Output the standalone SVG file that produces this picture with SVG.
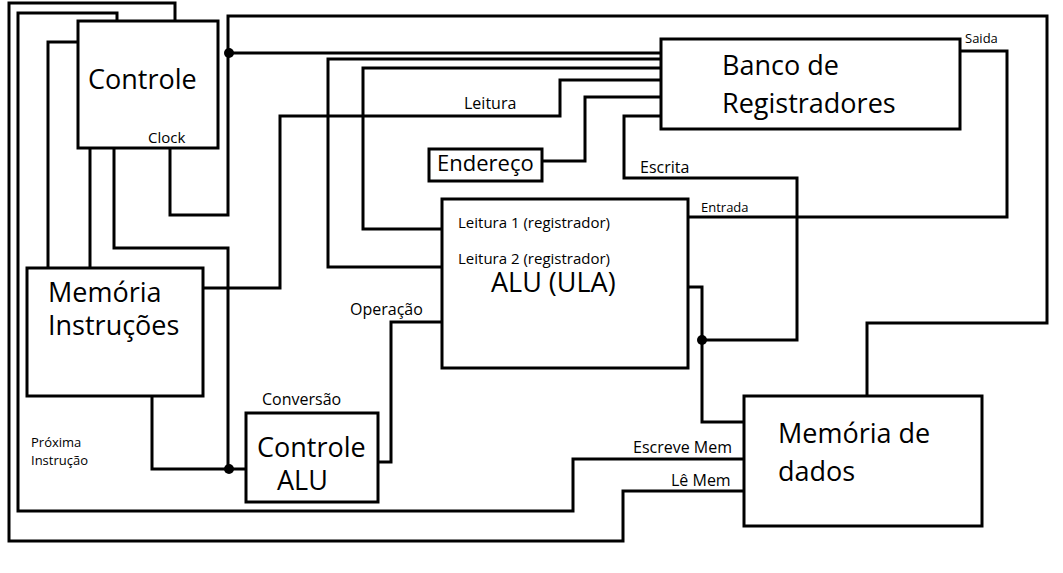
<svg xmlns="http://www.w3.org/2000/svg" width="1063" height="573" viewBox="0 0 1063 573">
<style>
.w{fill:none;stroke:#000;stroke-width:3;stroke-linejoin:miter}
.b{fill:#fff;stroke:#000;stroke-width:3}
.d{fill:#000}
text{font-family:"Open Sans","Noto Sans",sans-serif;fill:#000}
.L{font-size:27px}
.M{font-size:16px}
.S{font-size:13px}
</style>
<rect width="1063" height="573" fill="#fff"/>
<g id="connectors">
<polyline class="w" points="175,21 175,3 9,3 9,541 623,541 623,491 744,491"/>
<polyline class="w" points="117,21 117,13 18,13 18,511 573,511 573,459 744,459"/>
<polyline class="w" points="78,42 48,42 48,268"/>
<polyline class="w" points="90,148 90,268"/>
<polyline class="w" points="114,148 114,248 228,248 228,469"/>
<polyline class="w" points="152,396 152,469 246,469"/>
<polyline class="w" points="170,148 170,215 228,215 228,16 1047,16 1047,323 867,323 867,396"/>
<polyline class="w" points="228,53 661,53"/>
<polyline class="w" points="661,59 328,59 328,267 442,267"/>
<polyline class="w" points="661,68 363,68 363,229 442,229"/>
<polyline class="w" points="203,288 280,288 280,116 560,116 560,80 661,80"/>
<polyline class="w" points="542,161 585,161 585,97 661,97"/>
<polyline class="w" points="661,116 624,116 624,178 797,178 797,340 702,340"/>
<polyline class="w" points="960,51 1007,51 1007,217 688,217"/>
<polyline class="w" points="688,287 702,287 702,422 744,422"/>
<polyline class="w" points="378,462 391,462 391,322 442,322"/>
<circle class="d" cx="229" cy="53" r="5"/>
<circle class="d" cx="229" cy="469" r="5"/>
<circle class="d" cx="702" cy="340" r="5"/>
<text class="M" x="464" y="109">Leitura</text>
<text class="M" x="640" y="173">Escrita</text>
<text class="S" x="965" y="43">Saida</text>
<text class="S" x="701" y="212">Entrada</text>
<text class="M" x="350" y="315">Operação</text>
<text class="M" x="633" y="453">Escreve Mem</text>
<text class="M" x="671" y="486">Lê Mem</text>
<text class="S" x="31" y="447">Próxima</text>
<text class="S" x="31" y="465">Instrução</text>
</g>
<g id="controle">
<rect class="b" x="78" y="21" width="140" height="127"/>
<text class="L" x="88" y="89">Controle</text>
<text class="M" x="148" y="143" style="font-size:15px">Clock</text>
</g>
<g id="banco">
<rect class="b" x="661" y="39" width="299" height="90"/>
<text class="L" x="722" y="75">Banco de</text>
<text class="L" x="722" y="113">Registradores</text>
</g>
<g id="endereco">
<rect class="b" x="429" y="149" width="113" height="32"/>
<text x="437" y="171" style="font-size:22px">Endereço</text>
</g>
<g id="alu">
<rect class="b" x="442" y="199" width="246" height="169"/>
<text x="458" y="228" style="font-size:15px">Leitura 1 (registrador)</text>
<text x="458" y="264" style="font-size:15px">Leitura 2 (registrador)</text>
<text class="L" x="491" y="292">ALU (ULA)</text>
</g>
<g id="memoria-instrucoes">
<rect class="b" x="27" y="268" width="176" height="128"/>
<text class="L" x="48" y="302">Memória</text>
<text class="L" x="48" y="335">Instruções</text>
</g>
<g id="controle-alu">
<rect class="b" x="246" y="413" width="132" height="89"/>
<text class="M" x="262" y="405">Conversão</text>
<text class="L" x="257" y="457">Controle</text>
<text class="L" x="277" y="490">ALU</text>
</g>
<g id="memoria-dados">
<rect class="b" x="744" y="396" width="238" height="130"/>
<text class="L" x="778" y="443">Memória de</text>
<text class="L" x="778" y="481">dados</text>
</g>
</svg>
